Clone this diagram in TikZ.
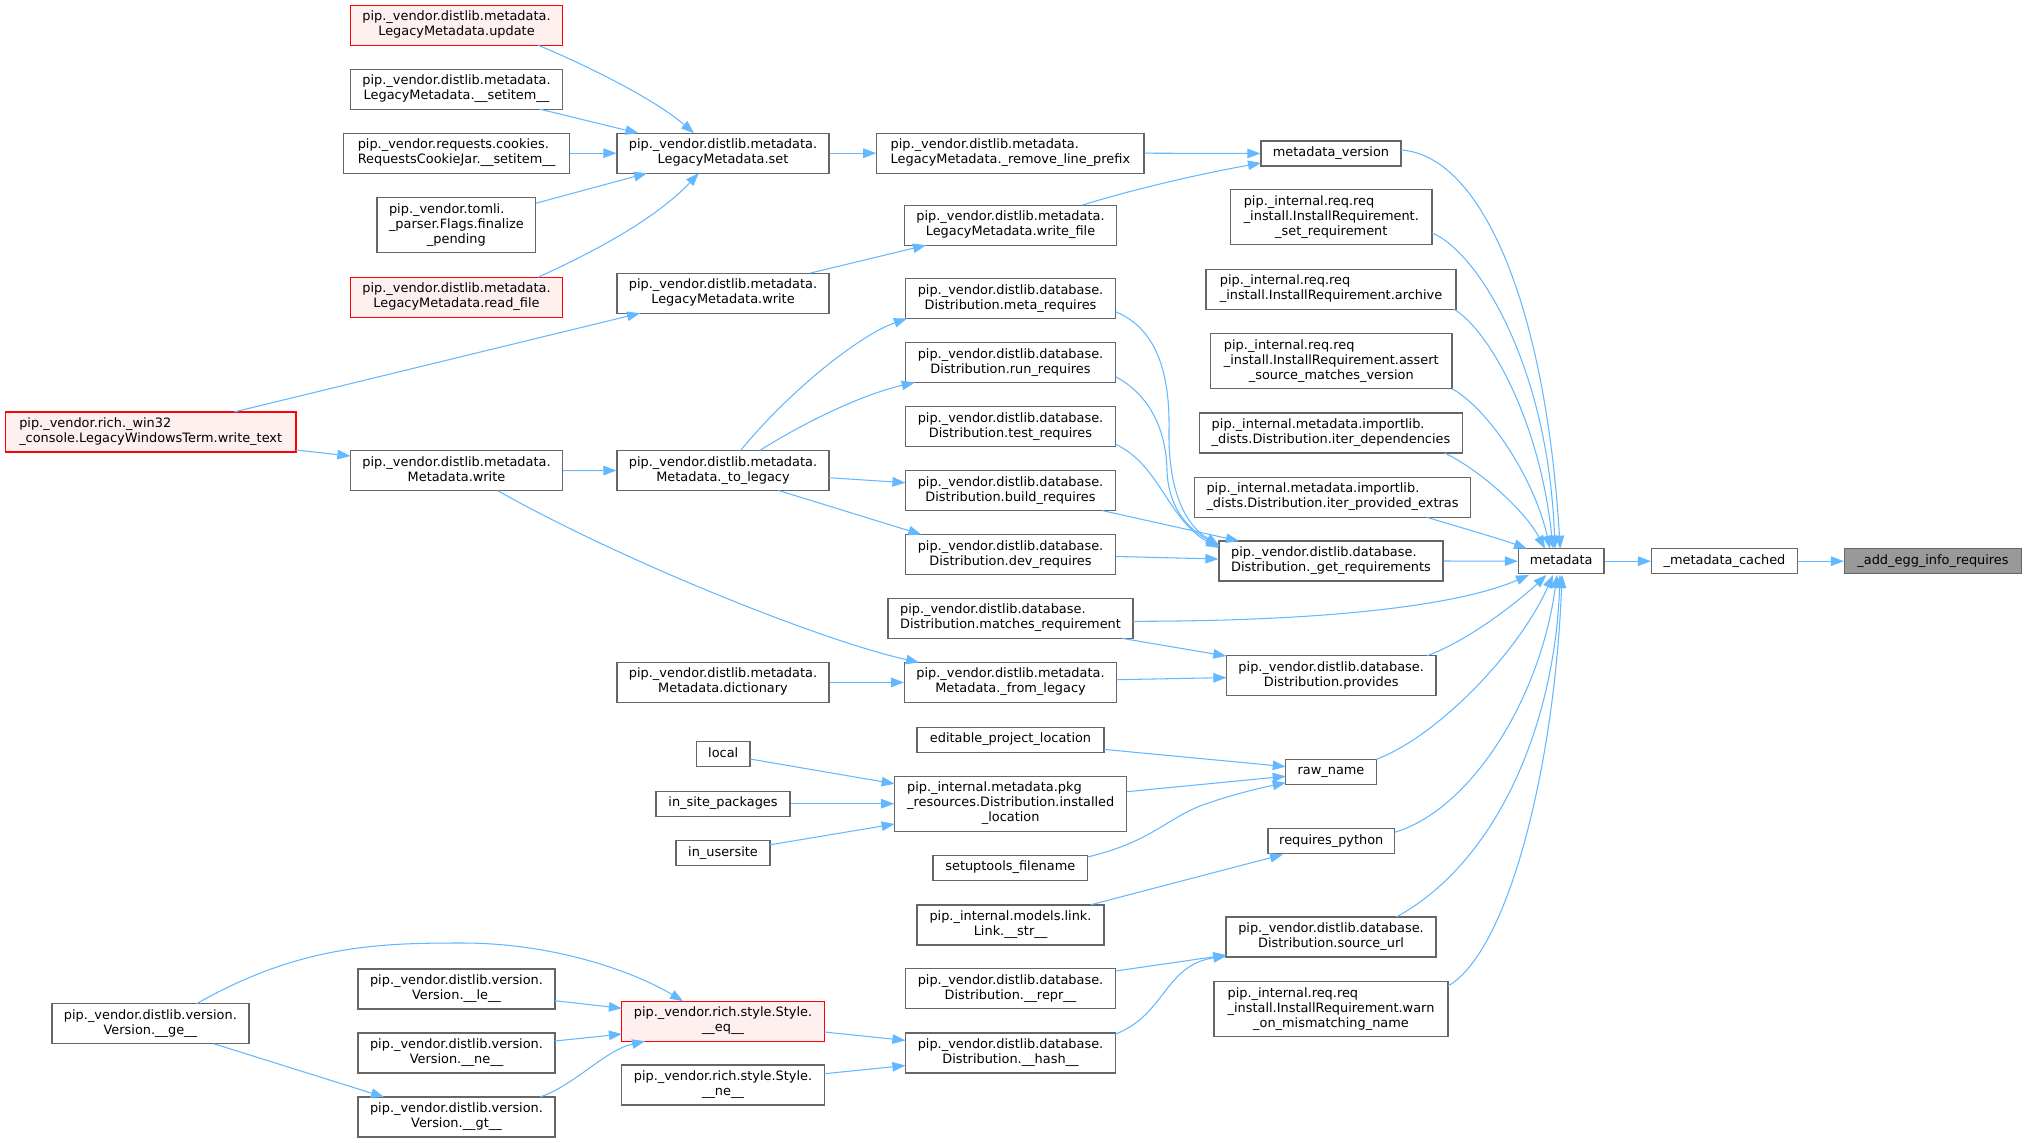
\documentclass[tikz,border=0pt]{standalone}
\usepackage{fontspec}
\setmainfont{DejaVu Sans}
\usetikzlibrary{arrows.meta,calc}
\definecolor{edgecol}{HTML}{63B8FF}
\definecolor{nodeborder}{HTML}{666666}
\definecolor{redfill}{HTML}{FFF0F0}
\definecolor{rootfill}{HTML}{999999}
\newcommand\nodefont{\fontsize{12.9}{15}\selectfont}
\newcommand\oneL[1]{\begin{tabular}{@{}c@{}}#1\end{tabular}}
\newcommand\twoL[2]{\begin{tabular}{@{}c@{}}\multicolumn{1}{@{}l@{}}{#1}\\#2\end{tabular}}
\newcommand\threeL[3]{\begin{tabular}{@{}c@{}}\multicolumn{1}{@{}l@{}}{#1}\\\multicolumn{1}{@{}l@{}}{#2}\\#3\end{tabular}}
\tikzset{
  nd/.style={draw=nodeborder, fill=white, line width=1.2pt, inner xsep=1pt, inner ysep=0pt, font=\nodefont, anchor=center},
  rednd/.style={nd, draw=red, fill=redfill},
  rootnd/.style={nd, fill=rootfill},
  edge/.style={draw=edgecol, line width=1.05pt, -{Triangle[length=13pt,width=9.5pt]}}
}
\begin{document}
\begin{tikzpicture}[x=1pt,y=-1pt]
\useasboundingbox[fill=white] (0,0) rectangle (2027,1143);

% column 1
\node[rednd,minimum width=290.6,minimum height=40] (writetext) at (150.7,432) {\twoL{pip.\_vendor.rich.\_win32}{\_console.LegacyWindowsTerm.write\_text}};
\node[nd,minimum width=197,minimum height=40] (ge) at (150.4,1023.8) {\twoL{pip.\_vendor.distlib.version.}{Version.\_\_ge\_\_}};

% column 2
\node[rednd,minimum width=212,minimum height=40] (update) at (456.5,25.2) {\twoL{pip.\_vendor.distlib.metadata.}{LegacyMetadata.update}};
\node[nd,minimum width=212,minimum height=40] (setitem) at (456.5,89.2) {\twoL{pip.\_vendor.distlib.metadata.}{LegacyMetadata.\_\_setitem\_\_}};
\node[nd,minimum width=225.5,minimum height=40] (reqsetitem) at (456.5,153.2) {\twoL{pip.\_vendor.requests.cookies.}{RequestsCookieJar.\_\_setitem\_\_}};
\node[nd,minimum width=158.7,minimum height=55] (tomli) at (456.4,225.2) {\threeL{pip.\_vendor.tomli.}{\_parser.Flags.finalize}{\_pending}};
\node[rednd,minimum width=212,minimum height=40] (readfile) at (456.5,297.3) {\twoL{pip.\_vendor.distlib.metadata.}{LegacyMetadata.read\_file}};
\node[nd,minimum width=212,minimum height=40] (mdwrite) at (456.5,470.7) {\twoL{pip.\_vendor.distlib.metadata.}{Metadata.write}};
\node[nd,minimum width=197,minimum height=40] (le) at (456.5,989) {\twoL{pip.\_vendor.distlib.version.}{Version.\_\_le\_\_}};
\node[nd,minimum width=197,minimum height=40] (vne) at (456.5,1053) {\twoL{pip.\_vendor.distlib.version.}{Version.\_\_ne\_\_}};
\node[nd,minimum width=197,minimum height=40] (gt) at (456.5,1117) {\twoL{pip.\_vendor.distlib.version.}{Version.\_\_gt\_\_}};

% column 3
\node[nd,minimum width=212,minimum height=40] (lset) at (723,153.2) {\twoL{pip.\_vendor.distlib.metadata.}{LegacyMetadata.set}};
\node[nd,minimum width=212,minimum height=40] (lwrite) at (723,293.2) {\twoL{pip.\_vendor.distlib.metadata.}{LegacyMetadata.write}};
\node[nd,minimum width=212,minimum height=40] (tolegacy) at (723,470.5) {\twoL{pip.\_vendor.distlib.metadata.}{Metadata.\_to\_legacy}};
\node[nd,minimum width=212,minimum height=40] (dictionary) at (723,682.4) {\twoL{pip.\_vendor.distlib.metadata.}{Metadata.dictionary}};
\node[nd,minimum width=53.6,minimum height=25] (local) at (723.2,754.3) {\oneL{local}};
\node[nd,minimum width=134,minimum height=25] (insite) at (723,803.7) {\oneL{in\_site\_packages}};
\node[nd,minimum width=94,minimum height=25] (inuser) at (723,853) {\oneL{in\_usersite}};
\node[rednd,minimum width=203,minimum height=40] (eq) at (723,1021.2) {\twoL{pip.\_vendor.rich.style.Style.}{\_\_eq\_\_}};
\node[nd,minimum width=203,minimum height=40] (sne) at (723,1085) {\twoL{pip.\_vendor.rich.style.Style.}{\_\_ne\_\_}};

% column 4
\node[nd,minimum width=267.2,minimum height=40] (removelp) at (1010.4,153.2) {\twoL{pip.\_vendor.distlib.metadata.}{LegacyMetadata.\_remove\_line\_prefix}};
\node[nd,minimum width=212,minimum height=40] (writefile) at (1010.5,225.2) {\twoL{pip.\_vendor.distlib.metadata.}{LegacyMetadata.write\_file}};
\node[nd,minimum width=210.2,minimum height=40] (metareq) at (1010.5,298.5) {\twoL{pip.\_vendor.distlib.database.}{Distribution.meta\_requires}};
\node[nd,minimum width=210.2,minimum height=40] (runreq) at (1010.5,362.5) {\twoL{pip.\_vendor.distlib.database.}{Distribution.run\_requires}};
\node[nd,minimum width=210.2,minimum height=40] (testreq) at (1010.5,426.5) {\twoL{pip.\_vendor.distlib.database.}{Distribution.test\_requires}};
\node[nd,minimum width=210.2,minimum height=40] (buildreq) at (1010.5,490.5) {\twoL{pip.\_vendor.distlib.database.}{Distribution.build\_requires}};
\node[nd,minimum width=210.2,minimum height=40] (devreq) at (1010.5,554.5) {\twoL{pip.\_vendor.distlib.database.}{Distribution.dev\_requires}};
\node[nd,minimum width=245,minimum height=40] (matches) at (1010.5,618.4) {\twoL{pip.\_vendor.distlib.database.}{Distribution.matches\_requirement}};
\node[nd,minimum width=212,minimum height=40] (fromlegacy) at (1010.5,682.4) {\twoL{pip.\_vendor.distlib.metadata.}{Metadata.\_from\_legacy}};
\node[nd,minimum width=187,minimum height=25] (editable) at (1010.5,739.7) {\oneL{editable\_project\_location}};
\node[nd,minimum width=232,minimum height=55] (instloc) at (1010.7,803.7) {\threeL{pip.\_internal.metadata.pkg}{\_resources.Distribution.installed}{\_location}};
\node[nd,minimum width=154.5,minimum height=25] (setuptools) at (1010.3,867.7) {\oneL{setuptools\_filename}};
\node[nd,minimum width=187,minimum height=40] (linkstr) at (1010.5,925) {\twoL{pip.\_internal.models.link.}{Link.\_\_str\_\_}};
\node[nd,minimum width=210.2,minimum height=40] (repr) at (1010.5,988.8) {\twoL{pip.\_vendor.distlib.database.}{Distribution.\_\_repr\_\_}};
\node[nd,minimum width=210.2,minimum height=40] (hash) at (1010.5,1053) {\twoL{pip.\_vendor.distlib.database.}{Distribution.\_\_hash\_\_}};

% column 5
\node[nd,minimum width=140,minimum height=25] (mdversion) at (1331,153.5) {\oneL{metadata\_version}};
\node[nd,minimum width=201.4,minimum height=55] (setreq) at (1331.3,217.2) {\threeL{pip.\_internal.req.req}{\_install.InstallRequirement.}{\_set\_requirement}};
\node[nd,minimum width=250,minimum height=40] (archive) at (1331,289.2) {\twoL{pip.\_internal.req.req}{\_install.InstallRequirement.archive}};
\node[nd,minimum width=241.5,minimum height=55] (assert) at (1331.3,361.2) {\threeL{pip.\_internal.req.req}{\_install.InstallRequirement.assert}{\_source\_matches\_version}};
\node[nd,minimum width=263,minimum height=40] (iterdep) at (1331,433) {\twoL{pip.\_internal.metadata.importlib.}{\_dists.Distribution.iter\_dependencies}};
\node[nd,minimum width=276,minimum height=40] (iterextras) at (1332.5,497.3) {\twoL{pip.\_internal.metadata.importlib.}{\_dists.Distribution.iter\_provided\_extras}};
\node[nd,minimum width=224,minimum height=40] (getreq) at (1331,561) {\twoL{pip.\_vendor.distlib.database.}{Distribution.\_get\_requirements}};
\node[nd,minimum width=209.6,minimum height=40] (provides) at (1331.2,675.8) {\twoL{pip.\_vendor.distlib.database.}{Distribution.provides}};
\node[nd,minimum width=90.7,minimum height=25] (rawname) at (1331,771.8) {\oneL{raw\_name}};
\node[nd,minimum width=126.6,minimum height=25] (reqpython) at (1331.3,841.3) {\oneL{requires\_python}};
\node[nd,minimum width=210,minimum height=40] (sourceurl) at (1331,937) {\twoL{pip.\_vendor.distlib.database.}{Distribution.source\_url}};
\node[nd,minimum width=234,minimum height=55] (warn) at (1331,1009.2) {\threeL{pip.\_internal.req.req}{\_install.InstallRequirement.warn}{\_on\_mismatching\_name}};

% column 6
\node[nd,minimum width=85.5,minimum height=25] (metadata) at (1561.2,561.2) {\oneL{metadata}};
\node[nd,minimum width=146,minimum height=25] (mdcached) at (1724.5,561.2) {\oneL{\_metadata\_cached}};
\node[rootnd,minimum width=177,minimum height=25] (addegg) at (1933,561.2) {\oneL{\_add\_egg\_info\_requires}};

% edges into root chain
\draw[edge] (mdcached.east) -- (addegg.west);
\draw[edge] (metadata.east) -- (mdcached.west);
\draw[edge] (getreq.east) -- (metadata.west);

% edges into metadata from above
\draw[edge] ($(mdversion)+(70,-3.5)$) .. controls +(79,5) and +(-15,-248) .. ($(metadata)+(-1,-12.5)$);
\draw[edge] ($(setreq)+(100.7,15.8)$) .. controls +(43,17) and +(-7,-188) .. ($(metadata)+(-6.2,-12.5)$);
\draw[edge] ($(archive)+(123,20)$) .. controls +(35,21) and +(-13,-128) .. ($(metadata)+(-8.2,-12.5)$);
\draw[edge] ($(assert)+(120.7,27.5)$) .. controls +(38,21.3) and +(-15,-68) .. ($(metadata)+(-11.2,-12.5)$);
\draw[edge] ($(iterdep)+(113.6,20)$) .. controls +(35.4,17) and +(-20,-38) .. ($(metadata)+(-16.2,-12.5)$);
\draw[edge] ($(iterextras)+(94.3,20)$) .. controls +(33,10) and +(-27,-10) .. ($(metadata)+(-34.2,-12.5)$);

% edges into metadata from below
\draw[edge] ($(matches)+(122.5,2.9)$) .. controls +(197,0) and +(-69,30) .. ($(metadata)+(-32.2,13.8)$);
\draw[edge] ($(provides)+(95.6,-20)$) .. controls +(43,-15.7) and +(-26.4,25) .. ($(metadata)+(-14.8,13.8)$);
\draw[edge] ($(rawname)+(45.4,-12.5)$) .. controls +(63,-24) and +(-33,75) .. ($(metadata)+(-8.2,13.8)$);
\draw[edge] ($(reqpython)+(63.3,-9)$) .. controls +(75.4,-22.3) and +(-17,125) .. ($(metadata)+(-4.2,13.8)$);
\draw[edge] ($(sourceurl)+(65.4,-20)$) .. controls +(103.6,-57) and +(-5,145) .. ($(metadata)+(-1.2,13.8)$);
\draw[edge] ($(warn)+(117,-23.2)$) .. controls +(62,-36) and +(-7,185) .. ($(metadata)+(0.8,13.8)$);

% metadata_version inputs
\draw[edge] (removelp.east) -- (mdversion.west);
\draw[edge] ($(writefile)+(71.5,-20)$) .. controls +(58,-18) and +(-51,9) .. ($(mdversion)+(-70,9.5)$);
\draw[edge] (lset.east) -- (removelp.west);
\draw[edge] ($(lwrite)+(86.8,-20)$) -- ($(writefile)+(-84.5,20)$);

% inputs to LegacyMetadata.set
\draw[edge] ($(update)+(81.5,20)$) .. controls +(32,13) and +(-44,-38) .. ($(lset)+(-29,-20)$);
\draw[edge] ($(setitem)+(83.5,20)$) -- ($(lset)+(-84.6,-20)$);
\draw[edge] (reqsetitem.east) -- (lset.west);
\draw[edge] ($(tomli)+(79.3,-21.9)$) -- ($(lset)+(-76,20)$);
\draw[edge] ($(readfile)+(81.5,-20)$) .. controls +(37,-17) and +(-48.7,51.8) .. ($(lset)+(-24.3,20)$);

% write_text
\draw[edge] ($(writetext)+(83.3,-20)$) -- ($(lwrite)+(-83,20)$);
\draw[edge] ($(writetext)+(145.3,18)$) -- ($(mdwrite)+(-106.1,-14.7)$);

% Metadata.write
\draw[edge] (mdwrite.east) -- (tolegacy.west);
\draw[edge] ($(mdwrite)+(41.3,20)$) .. controls +(122,69) and +(-99,-22) .. ($(fromlegacy)+(-91.5,-20)$);

% to_legacy
\draw[edge] ($(tolegacy)+(17.6,-20)$) .. controls +(49.4,-60.5) and +(-47,16.5) .. ($(metareq)+(-103.5,20)$);
\draw[edge] ($(tolegacy)+(36.8,-20)$) .. controls +(40,-25.5) and +(-55,12.5) .. ($(runreq)+(-95.8,20)$);
\draw[edge] ($(tolegacy)+(106,7.2)$) -- ($(buildreq)+(-105.1,-7.8)$);
\draw[edge] ($(tolegacy)+(55.6,20)$) -- ($(devreq)+(-89.1,-20)$);

% requires -> _get_requirements
\draw[edge] ($(metareq)+(105.1,13.2)$) .. controls (1155,328) and (1170,370) .. (1169,430) .. controls (1168,490) and (1185,525) .. ($(getreq)+(-112,-16)$);
\draw[edge] ($(runreq)+(105.1,14.2)$) .. controls (1150,395) and (1166,430) .. (1167,470) .. controls (1168,505) and (1185,527) .. ($(getreq)+(-112,-15)$);
\draw[edge] ($(testreq)+(105.1,17.8)$) .. controls (1160,465) and (1168,520) .. ($(getreq)+(-112,-13)$);
\draw[edge] ($(buildreq)+(91.5,20)$) -- ($(getreq)+(-92,-20)$);
\draw[edge] ($(devreq.east)+(0,2)$) -- ($(getreq.west)+(0,-2)$);

% provides
\draw[edge] ($(matches)+(111.8,20)$) -- ($(provides)+(-104.9,-19.8)$);
\draw[edge] ($(fromlegacy)+(106,-2.7)$) -- ($(provides)+(-104.9,1.8)$);
\draw[edge] (dictionary.east) -- (fromlegacy.west);

% raw_name
\draw[edge] ($(editable)+(93.5,9.7)$) -- ($(rawname)+(-45.3,-5.2)$);
\draw[edge] ($(instloc)+(116.1,-12)$) -- ($(rawname)+(-45.3,4.5)$);
\draw[edge] ($(setuptools)+(77.2,-10.7)$) .. controls +(62.5,-15) and (1165,820) .. (1200,806) .. controls (1230,795) and (1260,788) .. ($(rawname)+(-45.3,10.9)$);

% installed_location
\draw[edge] ($(local)+(26.8,4.7)$) -- ($(instloc)+(-116.1,-19.9)$);
\draw[edge] (insite.east) -- (instloc.west);
\draw[edge] ($(inuser)+(47,-8.2)$) -- ($(instloc)+(-116.1,20.3)$);

% requires_python, source_url
\draw[edge] ($(linkstr)+(80.5,-20.3)$) -- ($(reqpython)+(-48.3,13.2)$);
\draw[edge] ($(repr)+(105.1,-17.8)$) -- ($(sourceurl)+(-104.7,18)$);
\draw[edge] ($(hash)+(105.1,-19)$) .. controls +(49.4,-19) and +(-61.3,9) .. ($(sourceurl)+(-104.7,19)$);

% __hash__
\draw[edge] ($(eq)+(101.5,10.8)$) -- ($(hash)+(-105.1,-12.6)$);
\draw[edge] ($(sne)+(101.5,-11.3)$) -- ($(hash)+(-105.1,12.5)$);

% __eq__
\draw[edge] ($(le)+(98.5,11.7)$) -- ($(eq)+(-101.1,-12.9)$);
\draw[edge] ($(vne)+(98.5,-12)$) -- ($(eq)+(-101.1,12.8)$);
\draw[edge] ($(gt)+(83.5,-20)$) .. controls +(35,-12) and +(-40,9) .. ($(eq)+(-78,20)$);
\draw[edge] ($(ge)+(46,-20)$) .. controls +(103.6,-59) and (380,943) .. (462,943) .. controls (560,943) and (640,975) .. ($(eq)+(-40,-20)$);
\draw[edge] ($(ge)+(63.6,20)$) -- ($(gt)+(-72.5,-20)$);
\end{tikzpicture}
\end{document}
